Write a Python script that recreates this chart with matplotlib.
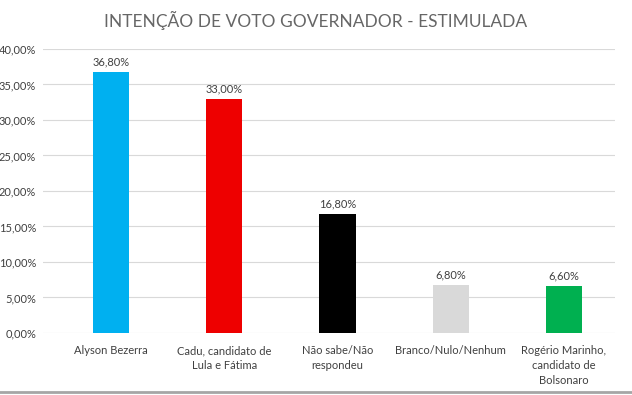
import matplotlib.pyplot as plt
from matplotlib.ticker import FuncFormatter
from matplotlib.lines import Line2D

categories = ["Alyson Bezerra", "Cadu, candidato de\nLula e Fátima", "Não sabe/Não\nrespondeu",
              "Branco/Nulo/Nenhum", "Rogério Marinho,\ncandidato de\nBolsonaro"]
values = [36.8, 33.0, 16.8, 6.8, 6.6]
colors = ["#00B0F0", "#EE0000", "#000000", "#D9D9D9", "#00B050"]

plt.rcParams['font.family'] = ['Lato', 'DejaVu Sans']

fig = plt.figure(figsize=(6.32, 3.95), dpi=100)
ax = fig.add_axes([0.068, 0.157, 0.905, 0.719])

x = range(len(categories))
ax.bar(x, values, width=0.32, color=colors, zorder=3)
for i, v in zip(x, values):
    ax.text(i, v + 0.6, f"{v:.2f}%".replace('.', ','), ha='center', va='bottom',
            fontsize=8, color='#404040')

ax.set_ylim(0, 40)
ax.set_xlim(-0.6, 4.45)
ax.set_yticks(range(0, 41, 5))
ax.yaxis.set_major_formatter(FuncFormatter(lambda v, p: f"{v:.2f}%".replace('.', ',')))
ax.set_xticks(list(x))
ax.set_xticklabels(categories, fontsize=8, color='#404040', linespacing=1.4)
ax.tick_params(axis='y', labelsize=8, labelcolor='#404040', length=0, pad=5)
ax.tick_params(axis='x', length=0, pad=9)
ax.grid(axis='y', color='#D9D9D9', linewidth=0.8, zorder=0)
for s in ax.spines.values():
    s.set_visible(False)

fig.text(0.5, 0.948, "INTENÇÃO DE VOTO GOVERNADOR - ESTIMULADA", ha='center', va='center',
         fontsize=12.5, color='#666666')
fig.add_artist(Line2D([0, 1], [0.007, 0.007], transform=fig.transFigure, color='#A6A6A6', linewidth=2))

fig.savefig("out.png", dpi=100)
